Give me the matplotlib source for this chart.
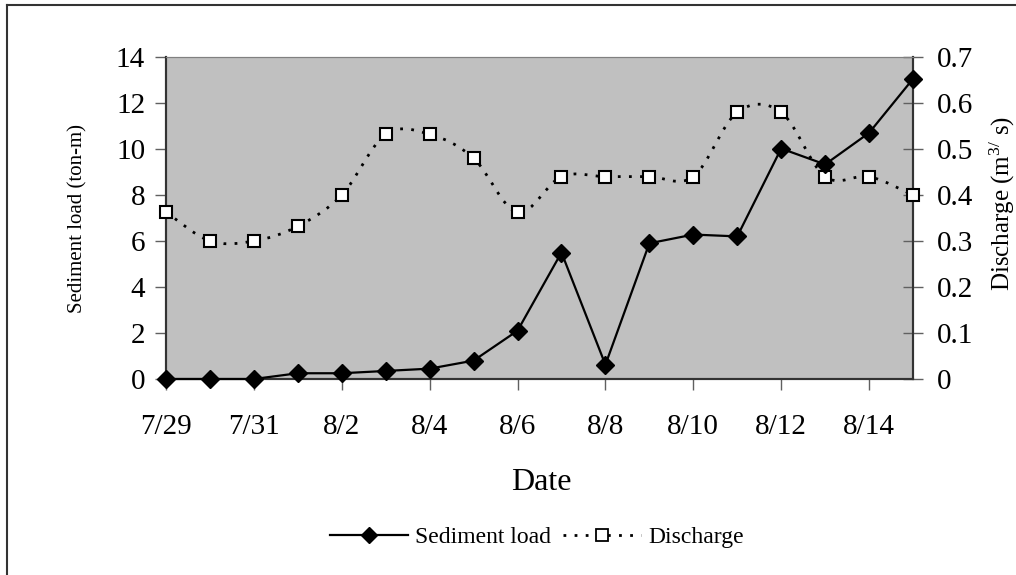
import matplotlib
matplotlib.use("Agg")
import matplotlib.pyplot as plt
from matplotlib.path import Path
from matplotlib.patches import PathPatch
from matplotlib.lines import Line2D
import numpy as np

plt.rcParams['font.family'] = ['Liberation Serif', 'DejaVu Serif']
plt.rcParams['mathtext.fontset'] = 'custom'
plt.rcParams['mathtext.rm'] = 'Liberation Serif'
plt.rcParams['mathtext.it'] = 'Liberation Serif'

# Daily readings, 7/29 to 8/15
dates = ["7/29", "7/30", "7/31", "8/1", "8/2", "8/3", "8/4", "8/5", "8/6",
         "8/7", "8/8", "8/9", "8/10", "8/11", "8/12", "8/13", "8/14", "8/15"]
sediment_load = [0, 0, 0, 0.25, 0.25, 0.35, 0.45, 0.8, 2.1,
                 5.5, 0.62, 5.9, 6.28, 6.2, 10.02, 9.33, 10.7, 13.05]
discharge = [0.363, 0.30, 0.30, 0.332, 0.40, 0.532, 0.532, 0.48, 0.362,
             0.44, 0.44, 0.44, 0.44, 0.58, 0.58, 0.44, 0.44, 0.40]


def smooth_path(xs, ys, tension=1 / 6.0):
    """Cubic Bezier path through the points (Catmull-Rom style)."""
    pts = np.column_stack([xs, ys]).astype(float)
    verts = [pts[0]]
    codes = [Path.MOVETO]
    n = len(pts)
    for i in range(n - 1):
        p0 = pts[max(i - 1, 0)]
        p1 = pts[i]
        p2 = pts[i + 1]
        p3 = pts[min(i + 2, n - 1)]
        c1 = p1 + (p2 - p0) * tension
        c2 = p2 - (p3 - p1) * tension
        verts += [c1, c2, p2]
        codes += [Path.CURVE4] * 3
    return Path(verts, codes)


x = np.arange(len(dates))

fig = plt.figure(figsize=(10.16, 5.75), dpi=100)
ax = fig.add_axes([166 / 1016, 1 - 379 / 575, 747 / 1016, 322 / 575])
ax.set_facecolor('#C0C0C0')
ax2 = ax.twinx()

# Discharge: smoothed dotted line with open squares
curve = PathPatch(smooth_path(x, discharge), facecolor='none',
                  edgecolor='black', linewidth=2, linestyle=(0, (1, 3)),
                  zorder=2)
ax2.add_patch(curve)
ax2.plot(x, discharge, linestyle='none', marker='s', markersize=9,
         markerfacecolor='white', markeredgecolor='black',
         markeredgewidth=1.5, zorder=3, clip_on=False)

# Sediment load: solid line with filled diamonds (left scale is 20x right)
ax2.plot(x, np.array(sediment_load) / 20.0, color='black', linewidth=1.6,
         marker='D', markersize=9, markerfacecolor='black',
         markeredgecolor='black', zorder=4, clip_on=False)

ax.set_xlim(0, len(dates) - 1)
ax.set_ylim(0, 14)
ax2.set_ylim(0, 0.7)

ax.set_xticks(x[::2])
ax.set_xticklabels(dates[::2])
ax.set_yticks(np.arange(0, 15, 2))
ax2.set_yticks(np.arange(0, 0.75, 0.1))
ax2.set_yticklabels(["0"] + ["{:.1f}".format(v) for v in np.arange(0.1, 0.75, 0.1)])

ax.tick_params(axis='x', direction='out', length=8, width=1, color='#606060',
               labelsize=21, pad=17)
ax.tick_params(axis='y', direction='out', length=8, width=1, color='#606060',
               labelsize=21, pad=7)
ax2.tick_params(axis='y', direction='inout', length=14, width=1,
                color='#606060', labelsize=21, pad=10)

for a in (ax, ax2):
    a.spines['top'].set_color('#808080')
    a.spines['left'].set_color('#333333')
    a.spines['right'].set_color('#333333')
    a.spines['bottom'].set_color('#333333')
    a.spines['left'].set_linewidth(1.5)
    a.spines['right'].set_linewidth(1.5)
    a.spines['bottom'].set_linewidth(1.5)

fig.text(78 / 1016, 1 - 218 / 575, "Sediment load (ton-m)", rotation=90,
         ha='center', va='center', fontsize=15)
fig.text(1002 / 1016, 1 - 203 / 575, r"Discharge (m$^{3/}$ s)", rotation=90,
         ha='center', va='center', fontsize=18)
fig.text(541 / 1016, 1 - 483 / 575, "Date", ha='center', va='center',
         fontsize=23)

handles = [
    Line2D([], [], color='black', linewidth=1.6, marker='D', markersize=8),
    Line2D([], [], color='black', linewidth=2, linestyle=(0, (1, 3)),
           marker='s', markersize=8, markerfacecolor='white',
           markeredgecolor='black', markeredgewidth=1.3),
]
fig.legend(handles, ["Sediment load", "Discharge"], loc='center',
           bbox_to_anchor=(537 / 1016, 1 - 537 / 575), ncol=2, frameon=False,
           fontsize=17, handlelength=3.3, handletextpad=0.3, columnspacing=0.5)

# chart frame (left and top edges)
fig.add_artist(Line2D([7 / 1016, 7 / 1016], [0, 1 - 5 / 575],
                      transform=fig.transFigure, color='#333333', linewidth=1.5))
fig.add_artist(Line2D([7 / 1016, 1], [1 - 5 / 575, 1 - 5 / 575],
                      transform=fig.transFigure, color='#333333', linewidth=1.5))

fig.savefig("out.png", dpi=100)
